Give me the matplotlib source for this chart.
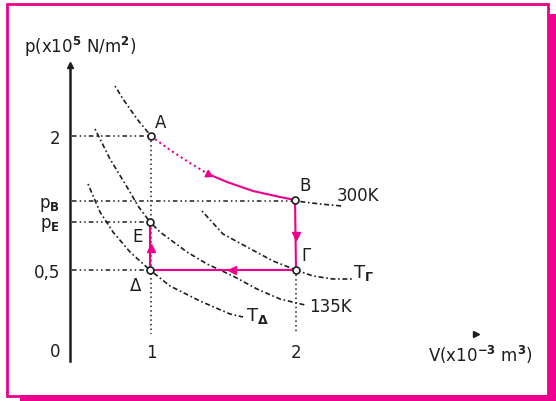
import numpy as np
import matplotlib.pyplot as plt
from matplotlib.patches import Rectangle

plt.rcParams['font.family'] = ['DejaVu Sans']
plt.rcParams['mathtext.fontset'] = 'dejavusans'

pink = '#EC008C'
ink = '#1e1e1e'
fs = 12

# schematic diagram positions (x right, y down)
state_names = ['Α', 'Β', 'Γ', 'Δ', 'Ε']
state_x = [151, 295, 296, 150, 150]
state_y = [137, 201, 271, 271, 223]

# p ticks (the diagram is not to scale)
p_tick_pos = [137, 202, 222, 271, 350]
p_tick_lab = ['2', r'$\mathrm{p}_{\mathbf{B}}$', r'$\mathrm{p}_{\mathbf{E}}$', '0,5', '0']
v_tick_pos = [151, 296]
v_tick_lab = ['1', '2']

# isotherms (black dotted parts)
iso300_x = [115, 123, 137, 151]
iso300_y = [87, 100, 120, 137]
iso300b_x = [296, 320, 342]
iso300b_y = [202, 205, 207]
# pink part A -> B
ab_x = [151, 170, 190, 208, 227, 253, 280, 295]
ab_y = [137, 151, 164, 175, 183, 192, 198, 201]
iso135_x = [95, 110, 130, 138, 150, 160, 187, 207, 233, 257, 280, 305]
iso135_y = [130, 160, 193, 207, 223, 233, 253, 265, 277, 290, 300, 306]
isoTg_x = [202, 223, 247, 273, 296, 313, 333, 353]
isoTg_y = [212, 235, 248, 262, 271, 277, 280, 280]
isoTd_x = [88, 100, 113, 130, 150, 170, 200, 230, 243]
isoTd_y = [185, 213, 233, 253, 271, 287, 302, 315, 318]

fig = plt.figure(figsize=(5.56, 4.02), dpi=100)
ax = fig.add_axes([0, 0, 1, 1])
ax.set_xlim(0, 556)
ax.set_ylim(402, 0)

# pink frame with shadow
ax.add_patch(Rectangle((20, 396), 536, 8, color=pink, lw=0, clip_on=False))
ax.add_patch(Rectangle((548, 15), 10, 389, color=pink, lw=0, clip_on=False))
ax.add_patch(Rectangle((7, 5), 541, 392, fill=False, ec=pink, lw=2, clip_on=False))

# axes
for s in ['top', 'right', 'bottom']:
    ax.spines[s].set_visible(False)
ax.spines['left'].set_position(('data', 70))
ax.spines['left'].set_bounds(68, 362)
ax.spines['left'].set_linewidth(1.8)
ax.spines['left'].set_color(ink)
ax.spines['bottom'].set_position(('data', 341))
ax.set_yticks(p_tick_pos, p_tick_lab)
ax.set_xticks(v_tick_pos, v_tick_lab)
ax.tick_params(length=0, labelsize=fs, colors=ink)
ax.tick_params(axis='y', pad=7)
ax.tick_params(axis='x', pad=2)
ax.plot([70], [66], marker='^', color=ink, ms=5)
ax.plot([476], [335], marker='>', color=ink, ms=5)

ax.text(24, 47, r'p(x10$^{\mathbf{5}}$ N/m$^{\mathbf{2}}$)', fontsize=fs, va='center', ha='left', color=ink)
ax.text(428, 355, r'V(x10$^{\mathbf{-3}}$ m$^{\mathbf{3}}$)', fontsize=fs, va='center', ha='left', color=ink)

# guide lines
guide = dict(color=ink, lw=1.1, ls=(0, (3, 2, 1, 2, 1, 2)))
for px, py in [(151, 137), (295, 202), (150, 223), (150, 271)]:
    ax.plot([72, px], [py, py], **guide)
ax.plot([151, 151], [137, 335], color=ink, lw=1.1, ls=(0, (1, 2)))
ax.plot([296, 296], [271, 335], color=ink, lw=1.1, ls=(0, (1, 2)))

# isotherms
iso = dict(color=ink, lw=1.2, ls=(0, (1, 1.6, 3, 1.6)))
ax.plot(iso300_x, iso300_y, **iso)
ax.plot(iso300b_x, iso300b_y, **iso)
ax.plot(iso135_x, iso135_y, **iso)
ax.plot(isoTg_x, isoTg_y, **iso)
ax.plot(isoTd_x, isoTd_y, **iso)

# cycle in pink
ax.plot(ab_x[:4], ab_y[:4], color=pink, lw=1.5, ls=(0, (1, 1.5)))
ax.plot(ab_x[3:], ab_y[3:], color=pink, lw=1.5)
ax.plot([state_x[1], state_x[2]], [state_y[1], state_y[2]], color=pink, lw=1.5)
ax.plot([state_x[2], state_x[3]], [state_y[2], state_y[3]], color=pink, lw=1.5)
ax.plot([state_x[3], state_x[4]], [state_y[3], state_y[4]], color=pink, lw=1.5)
ax.plot([208], [175], marker=(3, 0, -116), color=pink, ms=6)
ax.plot([296], [237], marker='v', color=pink, ms=6)
ax.plot([232], [271], marker='<', color=pink, ms=6)
ax.plot([151], [249], marker='^', color=pink, ms=6)

ax.plot(state_x, state_y, ls='none', marker='o', ms=5, mfc='white', mec=ink, mew=1.2, zorder=5)

# point labels
lab_off = [(10, -14), (10, -15), (10, -15), (-14, 15), (-12, 14)]
for n, x, y, (dx, dy) in zip(state_names, state_x, state_y, lab_off):
    ax.text(x + dx, y + dy, n, fontsize=fs, ha='center', va='center', color=ink)

ax.text(337, 196, '300K', fontsize=fs, ha='left', va='center', color=ink)
ax.text(353, 273, r'$\mathrm{T}_{\mathbf{\Gamma}}$', fontsize=fs + 1, ha='left', va='center', color=ink)
ax.text(309, 307, '135K', fontsize=fs, ha='left', va='center', color=ink)
ax.text(246, 316, r'$\mathrm{T}_{\mathbf{\Delta}}$', fontsize=fs + 1, ha='left', va='center', color=ink)

fig.savefig('out.png', dpi=100)
